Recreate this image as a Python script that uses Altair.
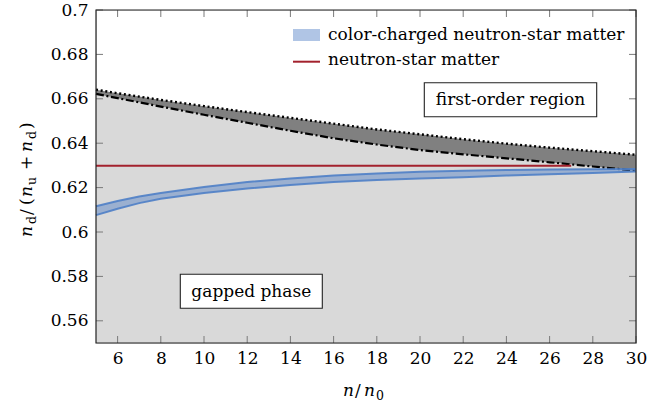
import altair as alt
import pandas as pd

FONT = "DejaVu Serif"
FS = 17

# density grid n/n0 and the curves of the phase diagram
n_vals = [5, 6, 7, 8, 10, 12, 14, 16, 18, 20, 22, 24, 26, 28, 30]
dotted_vals = [0.6641, 0.6625, 0.6610, 0.6595, 0.6567, 0.6540, 0.6514, 0.6488,
               0.6462, 0.6440, 0.6418, 0.6398, 0.6380, 0.6364, 0.6348]
dashdot_vals = [0.6622, 0.6603, 0.6584, 0.6565, 0.6528, 0.6492, 0.6456, 0.6422,
                0.6394, 0.6369, 0.6350, 0.6332, 0.6314, 0.6295, 0.6276]
band_upper = [0.6116, 0.6140, 0.6160, 0.6176, 0.6203, 0.6225, 0.6241, 0.6255,
              0.6264, 0.6271, 0.6276, 0.6279, 0.6281, 0.6283, 0.6284]
band_lower = [0.6076, 0.6105, 0.6130, 0.6150, 0.6176, 0.6196, 0.6212, 0.6225,
              0.6234, 0.6241, 0.6247, 0.6254, 0.6260, 0.6266, 0.6273]

# neutron-star matter (charge neutral, beta equilibrium)
ns_n = [5, 27]
ns_frac = [0.6298, 0.6298]

x_ticks = [6, 8, 10, 12, 14, 16, 18, 20, 22, 24, 26, 28, 30]
y_ticks = [0.56, 0.58, 0.60, 0.62, 0.64, 0.66, 0.68, 0.70]

W, H = 540, 333

curves = pd.DataFrame({
    "n": n_vals, "dotted": dotted_vals, "dashdot": dashdot_vals,
    "upper": band_upper, "lower": band_lower,
    "floor": [0.55] * len(n_vals),
})
ns = pd.DataFrame({"n": ns_n, "frac": ns_frac})
xt = pd.DataFrame({"n": x_ticks})
yt = pd.DataFrame({"v": y_ticks})
one = pd.DataFrame({"k": [0]})

xscale = alt.Scale(domain=[5, 30], nice=False, zero=False)
yscale = alt.Scale(domain=[0.55, 0.70], nice=False, zero=False)

axis_common = dict(ticks=False, tickSize=0, domain=False, grid=False,
                   labelFont=FONT, labelFontSize=FS, labelColor="black",
                   labelFlush=False, labelOverlap=False, title=None)
xaxis = alt.Axis(values=x_ticks, format="d", labelPadding=7, **axis_common)
yaxis = alt.Axis(values=y_ticks, format="~g", labelPadding=8, **axis_common)


def X(field):
    return alt.X(f"{field}:Q", scale=xscale, axis=xaxis)


def Y(field):
    return alt.Y(f"{field}:Q", scale=yscale, axis=yaxis)


base = alt.Chart(curves)

gapped = base.mark_area(color="#d9d9d9").encode(
    x=X("n"), y=Y("floor"), y2="dashdot")
first_order = base.mark_area(color="#808080").encode(
    x=X("n"), y=Y("dashdot"), y2="dotted")
dotted = base.mark_line(color="black", strokeWidth=2.4, strokeDash=[2, 2.7]).encode(
    x=X("n"), y=Y("dotted"))
dashdot = base.mark_line(color="black", strokeWidth=2.2,
                         strokeDash=[8, 2.6, 2, 2.6]).encode(
    x=X("n"), y=Y("dashdot"))

ns_line = alt.Chart(ns).mark_line(color="#a3212d", strokeWidth=2).encode(
    x=X("n"), y=Y("frac"))

BLUE = "#4f7fc6"
band = base.mark_area(color=BLUE, opacity=0.45).encode(
    x=X("n"), y=Y("upper"), y2="lower")
band_up = base.mark_line(color=BLUE, strokeWidth=2, opacity=0.9).encode(
    x=X("n"), y=Y("upper"))
band_lo = base.mark_line(color=BLUE, strokeWidth=2, opacity=0.9).encode(
    x=X("n"), y=Y("lower"))

# inward ticks on all four sides of the frame
TICK = dict(color="#7a7a7a", strokeWidth=1)
tick_b = alt.Chart(xt).mark_rule(**TICK).encode(
    x=X("n"), y=alt.value(H), y2=alt.value(H - 7))
tick_t = alt.Chart(xt).mark_rule(**TICK).encode(
    x=X("n"), y=alt.value(0), y2=alt.value(7))
tick_l = alt.Chart(yt).mark_rule(**TICK).encode(
    y=Y("v"), x=alt.value(0), x2=alt.value(7))
tick_r = alt.Chart(yt).mark_rule(**TICK).encode(
    y=Y("v"), x=alt.value(W), x2=alt.value(W - 7))

frame = alt.Chart(one).mark_rect(filled=False, stroke="#222222", strokeWidth=1.2).encode(
    x=alt.value(0), x2=alt.value(W), y=alt.value(0), y2=alt.value(H))


def label(txt, x, y, size=FS, style="normal", align="left", angle=0):
    kw = dict(font=FONT, fontSize=size, fontStyle=style, align=align,
              baseline="alphabetic", color="black", text=txt)
    if angle:
        kw["angle"] = angle
    return alt.Chart(one).mark_text(**kw).encode(x=alt.value(x), y=alt.value(y))


def box(x0, x1, y0, y1):
    return alt.Chart(one).mark_rect(fill="white", stroke="#222222", strokeWidth=1.1).encode(
        x=alt.value(x0), x2=alt.value(x1), y=alt.value(y0), y2=alt.value(y1))


annotations = [
    box(328.3, 500.7, 72.7, 106.7),
    label("first-order region", 414.5, 95, align="center"),
    box(84.3, 226.3, 264.3, 298.3),
    label("gapped phase", 155.3, 287, align="center"),
]

# legend
legend = [
    alt.Chart(one).mark_rect(fill=BLUE, opacity=0.45).encode(
        x=alt.value(197), x2=alt.value(224), y=alt.value(19), y2=alt.value(31)),
    alt.Chart(one).mark_rule(color="#a3212d", strokeWidth=2).encode(
        x=alt.value(197), x2=alt.value(224), y=alt.value(51.7)),
    label("color-charged neutron-star matter", 232, 29.5),
    label("neutron-star matter", 232, 55),
]

# axis titles: n/n0 and n_d/(n_u + n_d)
SUB = 12.5
x_title = [
    label("n", 247, 386, style="italic"),
    label("/", 259, 386),
    label("n", 268, 386, style="italic"),
    label("0", 280, 389.5, size=SUB),
]
YB, YS = -64, -60.5
y_title = [
    label("n", YB, 227, style="italic", angle=270),
    label("d", YS, 214, size=SUB, angle=270),
    label("/", YB, 205, angle=270),
    label("(", YB, 195, angle=270),
    label("n", YB, 187, style="italic", angle=270),
    label("u", YS, 175, size=SUB, angle=270),
    label("+", YB, 160, angle=270),
    label("n", YB, 142, style="italic", angle=270),
    label("d", YS, 129, size=SUB, angle=270),
    label(")", YB, 119, angle=270),
]

chart = alt.layer(
    gapped, first_order, dotted, dashdot, ns_line, band, band_up, band_lo,
    tick_b, tick_t, tick_l, tick_r, frame,
    *annotations, *legend, *x_title, *y_title,
).properties(
    width=W, height=H,
    autosize=alt.AutoSizeParams(type="none"),
    padding={"left": 96, "top": 10, "right": 36, "bottom": 64},
).configure_view(strokeWidth=0).configure(background="white")

chart.save("out.html", embed_options={"renderer": "svg", "actions": False})
